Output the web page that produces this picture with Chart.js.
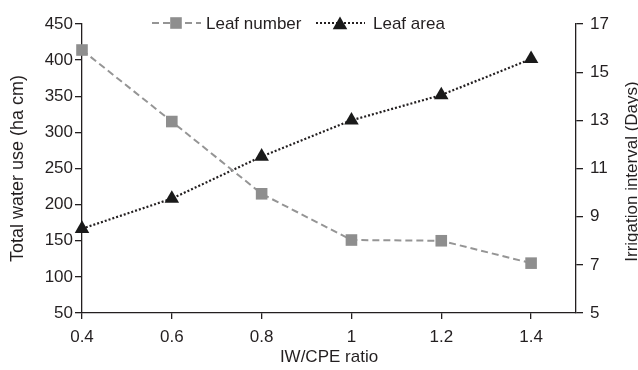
<!DOCTYPE html>
<html><head><meta charset="utf-8">
<script src="https://cdn.jsdelivr.net/npm/chart.js@4.4.1/dist/chart.umd.min.js"></script>
<style>html,body{margin:0;padding:0;background:#fff}</style>
</head><body>
<canvas id="c" width="638" height="370" style="width:638px;height:370px;display:block"></canvas>
<script>
// ---- data ----
const ratios = [0.4, 0.6, 0.8, 1.0, 1.2, 1.4];
const leafNumber = [414, 315, 215, 151, 150, 119];      // left axis (Total water use)
const leafArea = [8.5, 9.75, 11.5, 13.0, 14.05, 15.55]; // right axis (Irrigation interval)
const seriesNames = ['Leaf number', 'Leaf area'];
const xTitle = 'IW/CPE ratio';
const yLeftTitle = 'Total water use (ha cm)';
const yRightTitle = 'Irrigation interval (Days)';

const INK = '#231f20';
const GRAY = '#959595';
const FONT = "'Liberation Sans', Arial, Helvetica, sans-serif";

Chart.defaults.font.family = FONT;
Chart.defaults.font.size = 17;
Chart.defaults.color = INK;

const fmt = v => String(Number(Number(v).toFixed(1)));

const customLegendAndTitle = {
  id: 'customLegendAndTitle',
  afterDraw(chart) {
    const ctx = chart.ctx;
    const ca = chart.chartArea;
    ctx.save();
    ctx.font = "17px " + FONT;
    ctx.fillStyle = INK;
    ctx.textBaseline = 'middle';
    // right axis title, reading bottom to top
    ctx.save();
    ctx.translate(632, (ca.top + ca.bottom) / 2 + 3);
    ctx.rotate(-Math.PI / 2);
    ctx.textAlign = 'center';
    ctx.fillText(yRightTitle, 0, 0);
    ctx.restore();

    // legend
    const ly = 23;
    const starts = [152, 316];
    const textGap = [54, 57];
    const ds = chart.data.datasets;
    for (let i = 0; i < ds.length; i++) {
      const d = ds[i];
      const x = starts[i];
      ctx.save();
      ctx.strokeStyle = d.borderColor;
      ctx.lineWidth = d.borderWidth;
      ctx.setLineDash(d.borderDash);
      ctx.beginPath();
      ctx.moveTo(x, ly);
      ctx.lineTo(x + 49, ly);
      ctx.stroke();
      ctx.setLineDash([]);
      ctx.fillStyle = d.pointBackgroundColor;
      ctx.strokeStyle = d.pointBorderColor;
      Chart.helpers.drawPoint(ctx, {pointStyle: d.pointStyle, radius: d.pointRadius, rotation: 0, borderWidth: 0}, x + 24, ly + (d.pointStyle === 'triangle' ? 2 : 0));
      ctx.restore();
      ctx.textAlign = 'left';
      ctx.fillStyle = INK;
      ctx.fillText(d.label, x + textGap[i], ly + 1);
    }
    ctx.restore();
  }
};

new Chart(document.getElementById('c'), {
  type: 'line',
  data: {
    datasets: [
      {
        label: seriesNames[0],
        data: ratios.map((r, i) => ({x: r, y: leafNumber[i]})),
        yAxisID: 'y',
        borderColor: GRAY,
        borderWidth: 2,
        borderDash: [7, 4],
        pointStyle: 'rect',
        pointRadius: 8.2,
        pointBackgroundColor: '#8e8e8e',
        pointBorderColor: '#8e8e8e',
        pointBorderWidth: 0,
        tension: 0,
        fill: false,
        clip: false
      },
      {
        label: seriesNames[1],
        data: ratios.map((r, i) => ({x: r, y: leafArea[i]})),
        yAxisID: 'y1',
        borderColor: INK,
        borderWidth: 2.2,
        borderDash: [2, 2],
        pointStyle: 'triangle',
        pointRadius: 8.4,
        pointBackgroundColor: '#1a1a1a',
        pointBorderColor: '#1a1a1a',
        pointBorderWidth: 0,
        tension: 0,
        fill: false,
        clip: false
      }
    ]
  },
  options: {
    responsive: false,
    animation: false,
    devicePixelRatio: 1,
    layout: {padding: {top: 24, left: 0, right: 0, bottom: 0}},
    plugins: {legend: {display: false}, tooltip: {enabled: false}},
    scales: {
      x: {
        type: 'linear',
        min: 0.4,
        max: 1.5,
        afterFit(s) { s.height = 57; },
        border: {display: true, color: INK, width: 1.3},
        grid: {drawOnChartArea: false, drawTicks: true, tickLength: 6, color: INK, lineWidth: 1.3},
        ticks: {stepSize: 0.2, includeBounds: false, padding: 8, maxRotation: 0, autoSkip: false, callback: v => fmt(v)},
        title: {display: true, text: xTitle, padding: {top: 0, bottom: 2}}
      },
      y: {
        position: 'left',
        min: 50,
        max: 450,
        afterFit(s) { s.width = 82; },
        border: {display: true, color: INK, width: 1.3},
        grid: {drawOnChartArea: false, drawTicks: true, tickLength: 7, color: INK, lineWidth: 1.3},
        ticks: {stepSize: 50, padding: 2},
        title: {display: true, text: yLeftTitle, font: {size: 18}, padding: {top: 7, bottom: 10}}
      },
      y1: {
        position: 'right',
        min: 5,
        max: 17,
        afterFit(s) { s.width = 62; },
        border: {display: true, color: INK, width: 1.3},
        grid: {drawOnChartArea: false, drawTicks: true, tickLength: 7, color: INK, lineWidth: 1.3},
        ticks: {stepSize: 2, padding: 7},
        title: {display: false, text: yRightTitle}
      }
    }
  },
  plugins: [customLegendAndTitle]
});
</script>
</body></html>
